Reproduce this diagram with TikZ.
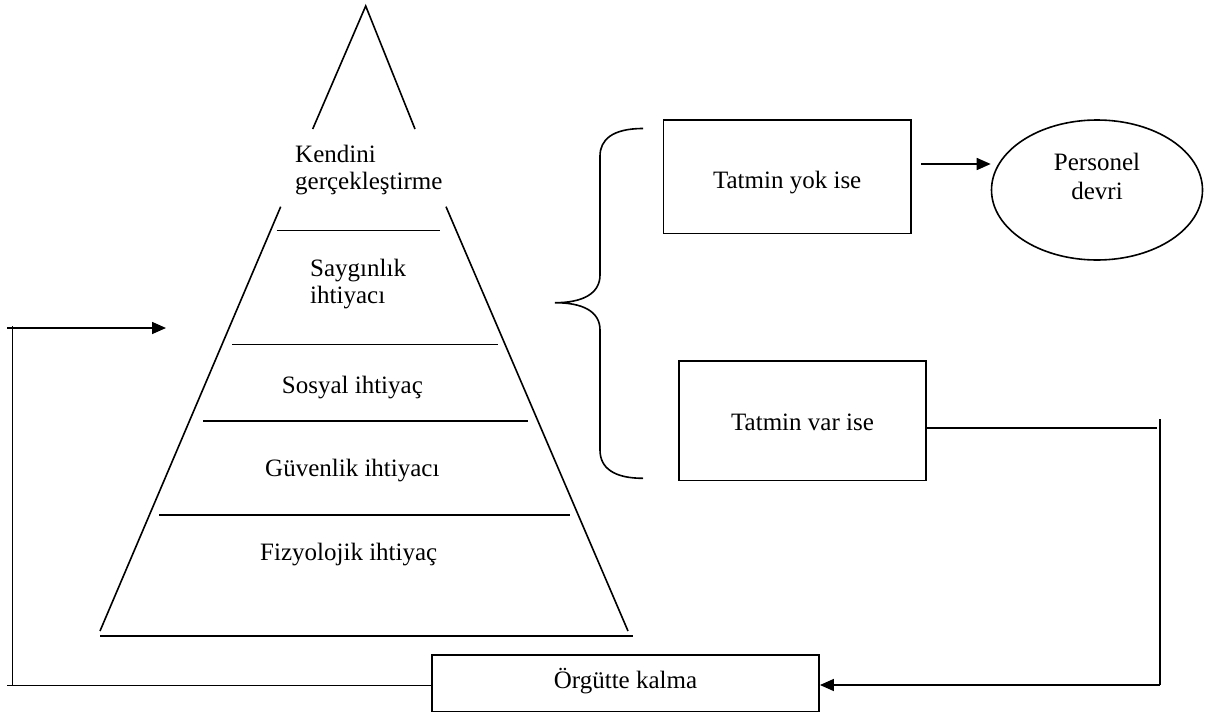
\documentclass[tikz,border=0pt]{standalone}
\usepackage{fontspec}
\setmainfont{Liberation Serif}
\usetikzlibrary{arrows.meta,shapes.geometric}
\tikzset{
  ln/.style={line width=1.6pt, line cap=butt},
  arr/.style={ln, -{Triangle[length=14pt,width=12pt]}},
  txt/.style={inner sep=0pt, font=\fontsize{25}{27}\selectfont},
  boxnode/.style={draw, line width=1.6pt, inner sep=0pt, font=\fontsize{25}{28.5}\selectfont},
}
\begin{document}
\begin{tikzpicture}[x=1pt,y=-1pt]
\useasboundingbox (0,0) rectangle (1212,715);

% --- pyramid: peak and levels ---
\coordinate (apex) at (365.7,6);
\coordinate (tl) at (312.7,129);
\coordinate (tr) at (415,129);
\coordinate (ml) at (280.7,206.7);
\coordinate (mr) at (446,206.7);
\coordinate (bl) at (100,631);
\coordinate (br) at (628,631);
\draw[ln] (tl) -- (apex) -- (tr);
\draw[ln] (ml) -- (bl);
\draw[ln] (mr) -- (br);
\draw[ln] (276.7,230.5) -- (440,230.5);
\draw[ln] (232,344.3) -- (498,344.3);
\draw[ln] (203,421) -- (528,421);
\draw[ln] (159,515) -- (570,515);
\draw[ln] (100,636) -- (633,636);

% two-line labels are anchored at the baseline of their last line
\node[txt, align=left, anchor=base west] (k) at (295,189) {Kendini\\gerçekleştirme};
\node[txt, align=left, anchor=base west] (s) at (310,303) {Saygınlık\\ihtiyacı};
\node[txt, anchor=base west] (so) at (281.7,393) {Sosyal ihtiyaç};
\node[txt, anchor=base west] (g) at (265,476.7) {Güvenlik ihtiyacı};
\node[txt, anchor=base west] (f) at (260,560) {Fizyolojik ihtiyaç};

% --- brace ---
\draw[ln] (643,128.5) .. controls (612,128.5) and (600,140) .. (600,156)
  -- (600,275) .. controls (600,294) and (582,302.7) .. (555,302.7)
  .. controls (582,302.7) and (600,311) .. (600,330)
  -- (600,450) .. controls (600,468) and (614,478.3) .. (643,478.3);

% --- outcome boxes ---
\node[boxnode, minimum width=247.7pt, minimum height=113.3pt,
      text height=28.6pt, text depth=6pt] (yok) at (787.2,176.7) {Tatmin yok ise};
\node[boxnode, minimum width=247pt, minimum height=119.7pt,
      text height=24.4pt, text depth=6pt] (var) at (802.5,420.8) {Tatmin var ise};
\node[boxnode, ellipse, minimum width=211pt, minimum height=140pt, align=center,
      text height=44pt, text depth=26pt] (pd) at (1097,190) {Personel\\devri};
\node[boxnode, minimum width=387.3pt, minimum height=56.7pt,
      text height=15.4pt, text depth=6pt] (org) at (625.5,683.3) {Örgütte kalma};

% --- connectors ---
\coordinate (ys) at (921,164);
\draw[arr] (ys) -- (ys -| pd.west);

\coordinate (vr) at (1157,428);
\coordinate (rt) at (1160,419);
\coordinate (rb) at (1160,685);
\draw[ln] (var.east |- vr) -- (vr);
\draw[ln] (rt) -- (rb);
\draw[arr] (rb) -- (rb -| org.east);

\coordinate (lt) at (12.3,326);
\coordinate (lb) at (12.3,685.5);
\coordinate (lbx) at (7,685.5);
\coordinate (ltx) at (7,328);
\coordinate (tip) at (166,328);
\draw[ln] (lt) -- (lb);
\draw[ln] (org.west |- lb) -- (lbx);
\draw[arr] (ltx) -- (tip);
\end{tikzpicture}
\end{document}
